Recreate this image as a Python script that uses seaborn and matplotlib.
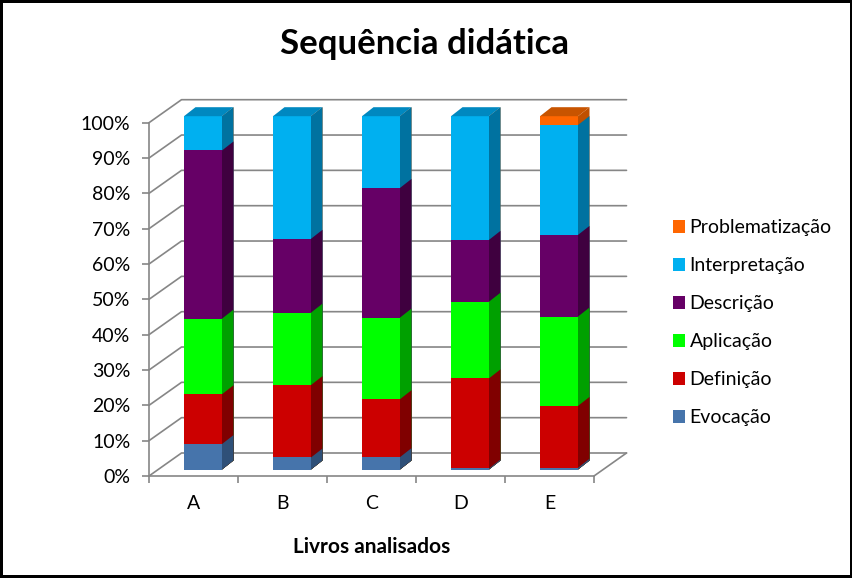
import matplotlib
matplotlib.use("Agg")
import matplotlib.pyplot as plt
from matplotlib.patches import Polygon
import numpy as np
import seaborn as sns

livros = ["A", "B", "C", "D", "E"]
evocacao = [7.2, 3.4, 3.5, 0.3, 0.5]
definicao = [14.1, 20.5, 16.4, 25.5, 17.5]
aplicacao = [21.4, 20.5, 23.1, 21.7, 25.3]
descricao = [47.6, 20.9, 36.7, 17.5, 23.1]
interpretacao = [9.7, 34.7, 20.3, 35.0, 31.1]
problematizacao = [0, 0, 0, 0, 2.5]

series = ["Evocação", "Definição", "Aplicação", "Descrição", "Interpretação", "Problematização"]
valores = [evocacao, definicao, aplicacao, descricao, interpretacao, problematizacao]
cor_frente = ["#4674AB", "#CC0000", "#00FF00", "#660066", "#00B0F0", "#FF6600"]
cor_lado = ["#2F5078", "#800000", "#00A000", "#3F003F", "#0072A0", "#C05000"]
cor_topo = ["#36598A", "#990000", "#00C000", "#4C004C", "#0088C0", "#C85400"]
yticks = list(range(0, 101, 10))

sns.set_theme(style="white")
plt.rcParams["font.family"] = ["Lato", "DejaVu Sans"]

W, H = 853, 578
fig = plt.figure(figsize=(W / 100, H / 100), dpi=100)
fig.patch.set_edgecolor("black")
fig.patch.set_linewidth(4)

# front plane of the fake 3D box, in pixels
x0, x1, y0, y1 = 149, 594, 476, 122.7
ax = fig.add_axes([x0 / W, 1 - y0 / H, (x1 - x0) / W, (y0 - y1) / H])

px_x = (x1 - x0) / 5
px_y = (y0 - y1) / 100
parede_x, parede_y = 32.5 / px_x, 23 / px_y
desl_x, desl_y = 9.5 / px_x, 6.5 / px_y
prof_x, prof_y = 11.5 / px_x, 9 / px_y

cum = np.cumsum(valores, axis=0)

# tallest first so the shorter stacks sit on top of it
for i in range(len(series) - 1, -1, -1):
    sns.barplot(x=livros, y=cum[i], order=livros, color=cor_frente[i], saturation=1,
                width=0.427, label=series[i], linewidth=0, ax=ax, zorder=2)

ax.set_xlim(-0.5, 4.5)
ax.set_ylim(0, 100)

for n, bars in enumerate(ax.containers):
    i = len(series) - 1 - n
    for j, b in enumerate(bars):
        b.set_x(b.get_x() + desl_x)
        b.set_y(desl_y)
        b.set_clip_on(False)
        xr = b.get_x() + b.get_width()
        top = b.get_y() + b.get_height()
        ax.add_patch(Polygon([(xr, desl_y), (xr + prof_x, desl_y + prof_y),
                              (xr + prof_x, top + prof_y), (xr, top)],
                             facecolor=cor_lado[i], lw=0, clip_on=False, zorder=2))
        topo = max(k for k in range(len(series)) if valores[k][j] > 0)
        if i == topo:
            xl = b.get_x()
            ax.add_patch(Polygon([(xl, top), (xr, top), (xr + prof_x, top + prof_y),
                                  (xl + prof_x, top + prof_y)],
                                 facecolor=cor_topo[i], lw=0, clip_on=False, zorder=2))

# walls and floor
cinza = "#868686"
for t in yticks:
    ax.plot([-0.5, -0.5 + parede_x, 4.5 + parede_x], [t, t + parede_y, t + parede_y],
            color=cinza, lw=1.2, clip_on=False, zorder=1)
ax.plot([4.5, 4.5 + parede_x], [0, parede_y], color=cinza, lw=1.2, clip_on=False, zorder=1)

sns.despine(ax=ax)
for s in ["left", "bottom"]:
    ax.spines[s].set_color(cinza)
    ax.spines[s].set_linewidth(1.2)

ax.set_yticks(yticks)
ax.set_yticklabels([f"{t}%" for t in yticks])
ax.set_xticks(np.arange(-0.5, 5), minor=True)
ax.tick_params(axis="x", which="major", length=0, labelsize=14, labelcolor="black", pad=14)
ax.tick_params(axis="x", which="minor", length=5, width=1.2, color=cinza, bottom=True)
ax.tick_params(axis="y", length=5, width=1.2, color=cinza, left=True, labelsize=14,
               labelcolor="black", pad=8.5)

ax.set_ylabel("")
ax.set_xlabel("Livros analisados", fontsize=15, fontweight="bold", color="black", labelpad=18)
fig.text(425 / W, 1 - 44 / H, "Sequência didática", fontsize=25, fontweight="bold",
         color="black", ha="center", va="center")

ax.legend(loc="upper left", bbox_to_anchor=(673 / W, 1 - 219 / H), bbox_transform=fig.transFigure,
          frameon=False, fontsize=14, handlelength=0.64, handleheight=0.64, handletextpad=0.22,
          labelspacing=1.08, labelcolor="black", borderpad=0, borderaxespad=0)

fig.savefig("out.png", dpi=100, edgecolor=fig.get_edgecolor())
plt.close(fig)
